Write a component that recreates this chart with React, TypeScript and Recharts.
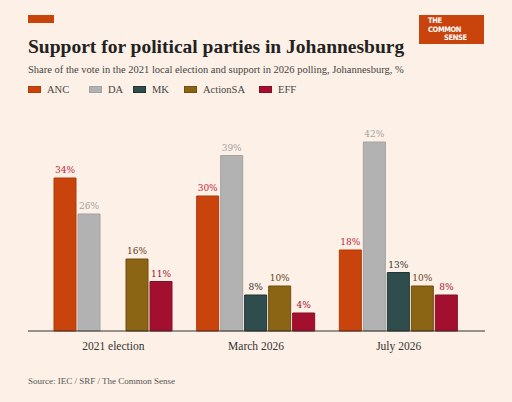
import React from "react";
import { BarChart, Bar, XAxis, YAxis, LabelList } from "recharts";

const categories = ["2021 election", "March 2026", "July 2026"];
const anc = [34, 30, 18];
const da = [26, 39, 42];
const mk: (number | null)[] = [null, 8, 13];
const actionSA = [16, 10, 10];
const eff = [11, 4, 8];

const series = [
  { key: "ANC", values: anc, fill: "#c8440c", stroke: "#b03a08", label: "#c0283a" },
  { key: "DA", values: da, fill: "#b2b2b2", stroke: "#a2a2a2", label: "#a3a3a3" },
  { key: "MK", values: mk, fill: "#2e4d4c", stroke: "#1f3534", label: "#333333" },
  { key: "ActionSA", values: actionSA, fill: "#8b6414", stroke: "#6e4f0e", label: "#5e3f1a" },
  { key: "EFF", values: eff, fill: "#a3102f", stroke: "#8a0c27", label: "#a3102f" },
];

const data = categories.map((c, i) => {
  const row: Record<string, string | number | null> = { name: c };
  series.forEach((s) => (row[s.key] = s.values[i]));
  return row;
});

const serif = "'Liberation Serif', serif";
const labelSerif = "'DejaVu Serif', serif";
const bg = "#fdf0e6";

export default function App() {
  return (
    <div
      style={{
        position: "fixed",
        left: 0,
        top: 0,
        width: 512,
        height: 402,
        background: bg,
        fontFamily: serif,
        overflow: "hidden",
      }}
    >
      <div style={{ position: "absolute", left: 28, top: 15, width: 26, height: 8, background: "#c8440c" }} />
      <div
        style={{
          position: "absolute",
          left: 419,
          top: 15,
          width: 65,
          height: 29,
          background: "#c8440c",
          color: "#fff",
          fontFamily: "'DejaVu Sans Condensed', 'Liberation Sans', sans-serif",
          fontWeight: 700,
          fontSize: 7.5,
          lineHeight: "8.5px",
          letterSpacing: -0.4,
          paddingTop: 2,
          boxSizing: "border-box",
        }}
      >
        <div style={{ marginLeft: 9 }}>THE</div>
        <div style={{ marginLeft: 9 }}>COMMON</div>
        <div style={{ marginLeft: 25 }}>SENSE</div>
      </div>
      <div
        style={{
          position: "absolute",
          left: 28,
          top: 36,
          fontSize: 19.5,
          fontWeight: 700,
          color: "#222",
          whiteSpace: "nowrap",
        }}
      >
        Support for political parties in Johannesburg
      </div>
      <div
        style={{
          position: "absolute",
          left: 28,
          top: 64,
          fontSize: 10.5,
          color: "#444",
          whiteSpace: "nowrap",
        }}
      >
        Share of the vote in the 2021 local election and support in 2026 polling, Johannesburg, %
      </div>
      {series.map((s, i) => {
        const xs = [28, 89, 133, 184, 259];
        return (
          <div
            key={s.key}
            style={{ position: "absolute", left: xs[i], top: 84, display: "flex", alignItems: "center", whiteSpace: "nowrap" }}
          >
            <div style={{ width: 13, height: 7, background: s.fill, border: `1px solid ${s.stroke}`, boxSizing: "border-box" }} />
            <span style={{ marginLeft: 6, fontSize: 10.5, color: "#444" }}>{s.key}</span>
          </div>
        );
      })}
      <div style={{ position: "absolute", left: 0, top: 0 }}>
        <BarChart
          width={512}
          height={402}
          data={data}
          margin={{ top: 128.5, left: 28, right: 27, bottom: 41 }}
          barSize={22}
          barGap={2}
        >
          <XAxis
            dataKey="name"
            height={30}
            padding={{ left: 14, right: 15 }}
            tickLine={false}
            tickMargin={5}
            axisLine={{ stroke: "#333", strokeWidth: 1 }}
            tick={{ fontFamily: serif, fontSize: 11.5, fill: "#333" }}
          />
          <YAxis hide domain={[0, 45]} />
          {series.map((s) => (
            <Bar key={s.key} dataKey={s.key} fill={s.fill} stroke={s.stroke} strokeWidth={1} isAnimationActive={false}>
              <LabelList
                dataKey={s.key}
                position="top"
                offset={5}
                formatter={(v: any) => (v == null ? "" : `${v}%`)}
                style={{ fontFamily: labelSerif, fontSize: 9, fill: s.label }}
              />
            </Bar>
          ))}
        </BarChart>
      </div>
      <div style={{ position: "absolute", left: 28, top: 376, fontSize: 9, color: "#555", whiteSpace: "nowrap" }}>
        Source: IEC / SRF / The Common Sense
      </div>
    </div>
  );
}
